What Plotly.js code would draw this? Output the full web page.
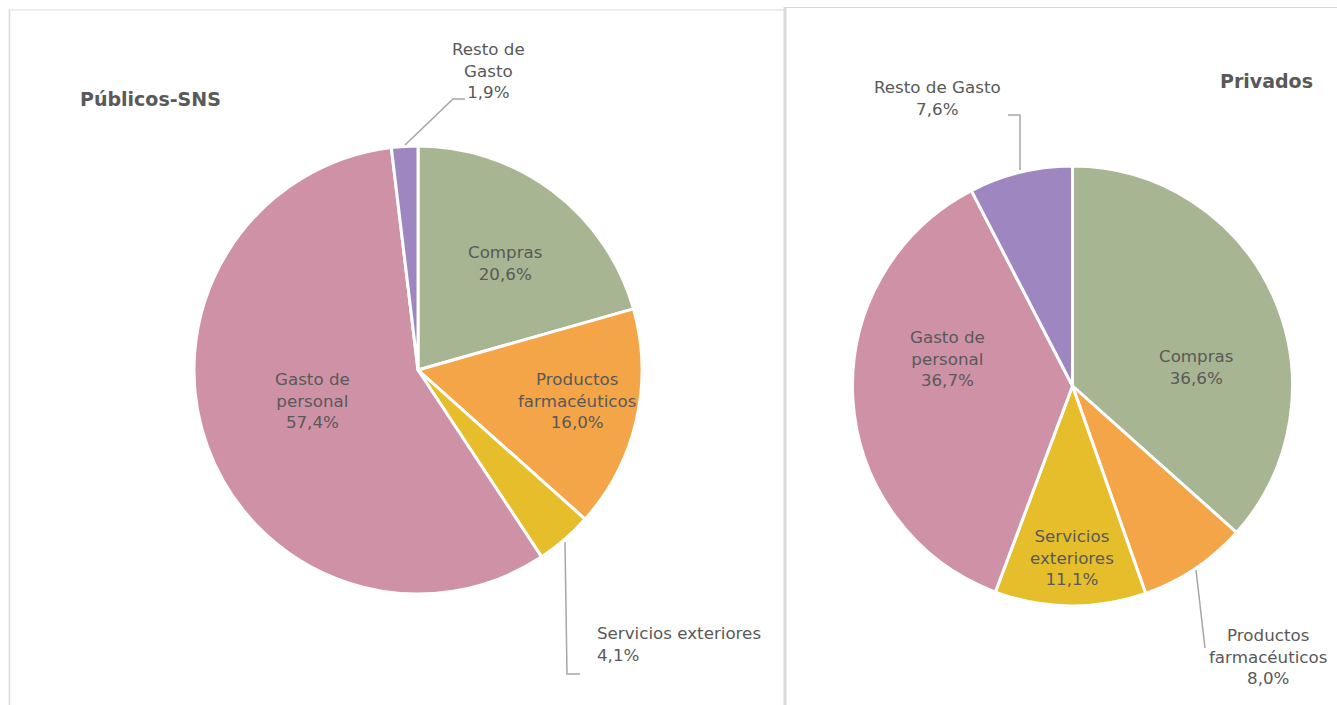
<!DOCTYPE html>
<html>
<head>
<meta charset="utf-8">
<script src="https://cdn.plot.ly/plotly-3.0.1.min.js"></script>
<style>html,body{margin:0;padding:0;background:#fff;}#chart{width:1337px;height:705px;}</style>
</head>
<body>
<div id="chart"></div>
<script>
// Data
const categories = ["Compras", "Productos farmacéuticos", "Servicios exteriores", "Gasto de personal", "Resto de Gasto"];
const labelsPublicos = ["Compras", "Productos<br>farmacéuticos", "Servicios exteriores", "Gasto de<br>personal", "Resto de<br>Gasto"];
const labelsPrivados = ["Compras", "Productos<br>farmacéuticos", "Servicios<br>exteriores", "Gasto de<br>personal", "Resto de Gasto"];
const valuesPublicos = [20.6, 16.0, 4.1, 57.4, 1.9];
const valuesPrivados = [36.6, 8.0, 11.1, 36.7, 7.6];
const titlePublicos = "Públicos-SNS";
const titlePrivados = "Privados";
const colors = ["#A7B592", "#F4A548", "#E6BD2A", "#CF91A6", "#9E86C1"];

const W = 1337, H = 705;
const px = x => x / W;
const py = y => 1 - y / H;
const fmt = v => v.toFixed(1).replace('.', ',') + '%';
const txtColor = "#595959";
const fontFam = "'DejaVu Sans', sans-serif";

const traces = [
  {
    type: 'pie', labels: categories, values: valuesPublicos, sort: false,
    direction: 'clockwise', rotation: 0, textinfo: 'none', hoverinfo: 'label+percent',
    marker: {colors: colors, line: {color: '#ffffff', width: 3}},
    domain: {x: [px(194), px(642)], y: [py(594), py(146)]}, showlegend: false
  },
  {
    type: 'pie', labels: categories, values: valuesPrivados, sort: false,
    direction: 'clockwise', rotation: 0, textinfo: 'none', hoverinfo: 'label+percent',
    marker: {colors: colors, line: {color: '#ffffff', width: 3}},
    domain: {x: [px(852), px(1293)], y: [py(606), py(166)]}, showlegend: false
  }
];

// label placement (layout only)
const posPublicos = [
  {x: 505, y: 263, xa: 'center'},
  {x: 577, y: 400, xa: 'center'},
  {x: 596, y: 644, xa: 'left'},
  {x: 312, y: 400, xa: 'center'},
  {x: 488, y: 70, xa: 'center'}
];
const posPrivados = [
  {x: 1196, y: 367, xa: 'center'},
  {x: 1268, y: 656, xa: 'center'},
  {x: 1072, y: 557, xa: 'center'},
  {x: 947, y: 359, xa: 'center'},
  {x: 937, y: 98, xa: 'center'}
];

const annotations = [];
function addLabels(labels, values, pos) {
  labels.forEach((l, i) => {
    annotations.push({
      xref: 'paper', yref: 'paper', x: px(pos[i].x), y: py(pos[i].y),
      xanchor: pos[i].xa, yanchor: 'middle', align: pos[i].xa === 'left' ? 'left' : 'center',
      text: l + '<br>' + fmt(values[i]), showarrow: false, borderpad: 0,
      font: {family: fontFam, size: 16.7, color: txtColor}
    });
  });
}
addLabels(labelsPublicos, valuesPublicos, posPublicos);
addLabels(labelsPrivados, valuesPrivados, posPrivados);

annotations.push({xref: 'paper', yref: 'paper', x: px(79), y: py(99), xanchor: 'left', yanchor: 'middle', borderpad: 0,
  text: '<b>' + titlePublicos + '</b>', showarrow: false, font: {family: fontFam, size: 19, color: txtColor}});
annotations.push({xref: 'paper', yref: 'paper', x: px(1314), y: py(81), xanchor: 'right', yanchor: 'middle', borderpad: 0,
  text: '<b>' + titlePrivados + '</b>', showarrow: false, font: {family: fontFam, size: 19, color: txtColor}});

function pathPx(pts) {
  return 'M ' + pts.map(p => px(p[0]) + ',' + py(p[1])).join(' L ');
}
const lc = {color: '#A6A6A6', width: 1.5};
const shapes = [
  // panel borders
  {type: 'line', xref: 'paper', yref: 'paper', x0: px(9), x1: px(784), y0: py(10), y1: py(10), line: {color: '#D9D9D9', width: 1}},
  {type: 'line', xref: 'paper', yref: 'paper', x0: px(786), x1: px(1337), y0: py(7.5), y1: py(7.5), line: {color: '#D9D9D9', width: 1}},
  {type: 'line', xref: 'paper', yref: 'paper', x0: px(9.5), x1: px(9.5), y0: py(10), y1: py(705), line: {color: '#D9D9D9', width: 1.5}},
  {type: 'line', xref: 'paper', yref: 'paper', x0: px(785), x1: px(785), y0: py(7), y1: py(705), line: {color: '#D9D9D9', width: 3}},
  // leader lines
  {type: 'path', xref: 'paper', yref: 'paper', path: pathPx([[405, 145], [453, 99], [465, 99]]), line: lc},
  {type: 'path', xref: 'paper', yref: 'paper', path: pathPx([[565, 542], [567, 674], [580, 674]]), line: lc},
  {type: 'path', xref: 'paper', yref: 'paper', path: pathPx([[1020, 170], [1020, 115], [1008, 115]]), line: lc},
  {type: 'path', xref: 'paper', yref: 'paper', path: pathPx([[1196, 570], [1205, 648]]), line: lc}
];

const layout = {
  width: W, height: H, margin: {l: 0, r: 0, t: 0, b: 0},
  paper_bgcolor: '#ffffff', showlegend: false,
  separators: ',.',
  annotations: annotations, shapes: shapes
};
Plotly.newPlot('chart', traces, layout, {displayModeBar: false, staticPlot: true});
</script>
</body>
</html>
